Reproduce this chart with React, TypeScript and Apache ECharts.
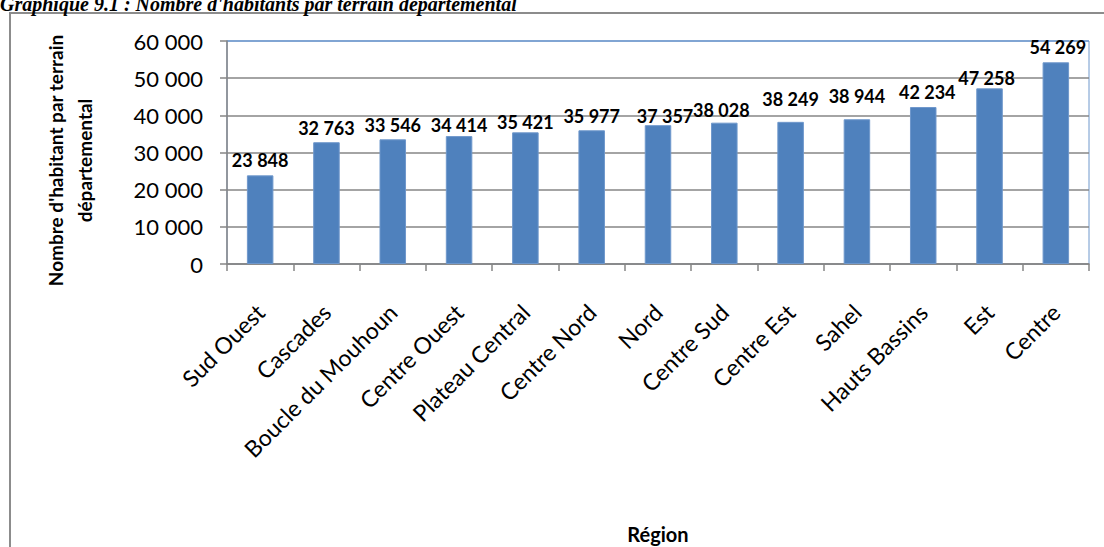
import React, { useEffect, useRef } from "react";
import * as echarts from "echarts";

const categories: string[] = [
  "Sud Ouest",
  "Cascades",
  "Boucle du Mouhoun",
  "Centre Ouest",
  "Plateau Central",
  "Centre Nord",
  "Nord",
  "Centre Sud",
  "Centre Est",
  "Sahel",
  "Hauts Bassins",
  "Est",
  "Centre",
];

const values: number[] = [
  23848, 32763, 33546, 34414, 35421, 35977, 37357, 38028, 38249, 38944, 42234,
  47258, 54269,
];

const yMin = 0;
const yMax = 60000;
const yInterval = 10000;

const titleText =
  "Graphique 9.1 : Nombre d'habitants par terrain départemental";
const yAxisName = "Nombre d'habitant par terrain\ndépartemental";
const xAxisName = "Région";

// label nudges (style only, in px)
const labelOffsets: number[][] = [
  [0, -1], [0, 0], [0, 0], [0, 3], [0, 4], [0, 0], [7, 5], [-3, 1],
  [0, -9], [0, -9], [4, -1], [-3, 4], [2, -1],
];

const fmt = (v: number) =>
  String(v).replace(/\B(?=(\d{3})+(?!\d))/g, " ");

const FONT = "Lato, 'Open Sans', sans-serif";

export default function App() {
  const ref = useRef<HTMLDivElement>(null);

  useEffect(() => {
    if (!ref.current) return;
    const chart = echarts.init(ref.current, null, { renderer: "svg" });
    const axisGray = "#868686";
    const option: any = {
      animation: false,
      backgroundColor: "#ffffff",
      textStyle: { fontFamily: FONT },
      graphic: [
        {
          type: "rect",
          shape: { x: 10, y: 13, width: 1200, height: 600 },
          style: { fill: "none", stroke: "#8c8c8c", lineWidth: 2 },
          z: 100,
        },
        {
          type: "text",
          x: 0,
          y: 4,
          style: {
            text: titleText,
            font: "italic bold 20px 'Liberation Serif', 'DejaVu Serif', serif",
            fill: "#000",
            align: "left",
            verticalAlign: "middle",
          },
          z: 100,
        },
      ],
      grid: {
        left: 227,
        right: 15,
        top: 41,
        bottom: 279,
        show: true,
        borderColor: "#6f98cc",
        borderWidth: 1,
        backgroundColor: "transparent",
      },
      xAxis: {
        type: "category",
        data: categories,
        name: xAxisName,
        nameLocation: "middle",
        nameGap: 258,
        nameTextStyle: {
          fontFamily: FONT,
          fontWeight: "bold",
          fontSize: 20,
          color: "#000",
          lineHeight: 24,
        },
        axisLine: { show: true, lineStyle: { color: axisGray, width: 1.5 } },
        axisTick: {
          show: true,
          length: 7,
          inside: false,
          lineStyle: { color: axisGray, width: 1.5 },
        },
        axisLabel: {
          interval: 0,
          rotate: 45,
          margin: 44,
          fontFamily: FONT,
          fontSize: 23,
          color: "#000",
        },
        splitLine: { show: false },
      },
      yAxis: {
        type: "value",
        min: yMin,
        max: yMax,
        interval: yInterval,
        name: yAxisName,
        nameLocation: "middle",
        nameGap: 128,
        nameTextStyle: {
          fontFamily: FONT,
          fontWeight: "bold",
          fontSize: 19,
          lineHeight: 29,
          color: "#000",
          padding: [0, 16, 0, 0],
        },
        axisLine: { show: true, lineStyle: { color: axisGray, width: 1.5 } },
        axisTick: {
          show: true,
          length: 7,
          inside: false,
          lineStyle: { color: axisGray, width: 1.5 },
        },
        axisLabel: {
          margin: 24,
          fontFamily: FONT,
          fontSize: 22,
          color: "#000",
          formatter: (v: number) => fmt(v),
        },
        splitLine: {
          show: true,
          lineStyle: {
            color: [
              axisGray, axisGray, axisGray, axisGray, axisGray, axisGray,
              "#6f98cc",
            ],
            width: 1.5,
          },
        },
      },
      series: [
        {
          type: "bar",
          barWidth: "40%",
          data: values.map((v, i) => ({
            value: v,
            label: { offset: labelOffsets[i] },
          })),
          itemStyle: {
            color: "#4f81bd",
            borderColor: "#6f98cc",
            borderWidth: 1,
          },
          label: {
            show: true,
            position: "top",
            distance: 5,
            fontFamily: FONT,
            fontWeight: "bold",
            fontSize: 18,
            color: "#000",
            formatter: (p: any) => fmt(p.value),
          },
        },
      ],
    };
    chart.setOption(option);
    return () => chart.dispose();
  }, []);

  return (
    <div
      ref={ref}
      style={{
        position: "fixed",
        left: 0,
        top: 0,
        width: 1104,
        height: 547,
        background: "#fff",
      }}
    />
  );
}
